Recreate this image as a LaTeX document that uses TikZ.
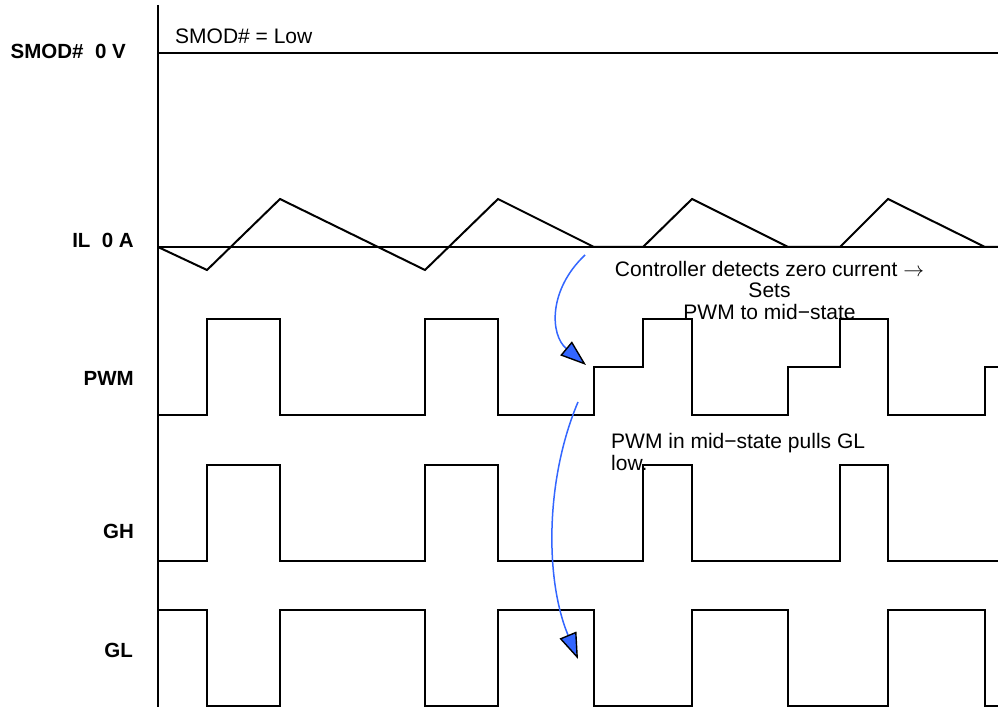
\documentclass[tikz,border=0pt]{standalone}
\usepackage{fontspec}
\setmainfont{Liberation Sans}
\usetikzlibrary{arrows.meta}
\definecolor{arrowblue}{RGB}{51,102,255}
\begin{document}
\begin{tikzpicture}[x=1pt,y=-1pt,
  wave/.style={line width=2pt,black,line join=miter},
  lbl/.style={font=\fontsize{20.5}{22}\selectfont\bfseries,anchor=base east,inner sep=0pt},
  txt/.style={font=\fontsize{21}{21.6}\selectfont,inner sep=0pt},
  note/.style={arrowblue,line width=1.5pt,
    -{Triangle[length=26pt,width=18pt,color=black,fill=arrowblue,line width=1.4pt]}}]
\useasboundingbox (0,0) rectangle (998,708);

% axis and reference lines
\draw[wave] (158,5) -- (158,707);
\draw[wave] (158,53) -- (998,53);
\draw[wave] (158,247) -- (998,247);

% IL waveform
\draw[wave] (158,247) -- (207,270) -- (280,199) -- (425,270) -- (498,199) -- (594,247)
  -- (643,247) -- (692,199) -- (788,247) -- (840,247) -- (888,199) -- (985,247) -- (998,247);

% PWM
\draw[wave] (158,415) -- (207,415) -- (207,319) -- (280,319) -- (280,415) -- (425,415)
  -- (425,319) -- (498,319) -- (498,415) -- (594,415) -- (594,367) -- (643,367)
  -- (643,319) -- (692,319) -- (692,415) -- (788,415) -- (788,367) -- (840,367)
  -- (840,319) -- (888,319) -- (888,415) -- (985,415) -- (985,367) -- (998,367);

% GH
\draw[wave] (158,561) -- (207,561) -- (207,465) -- (280,465) -- (280,561) -- (425,561)
  -- (425,465) -- (498,465) -- (498,561) -- (643,561) -- (643,465) -- (692,465)
  -- (692,561) -- (840,561) -- (840,465) -- (888,465) -- (888,561) -- (998,561);

% GL
\draw[wave] (158,610) -- (207,610) -- (207,706) -- (280,706) -- (280,610) -- (425,610)
  -- (425,706) -- (498,706) -- (498,610) -- (594,610) -- (594,706) -- (692,706)
  -- (692,610) -- (788,610) -- (788,706) -- (888,706) -- (888,610) -- (985,610)
  -- (985,706) -- (998,706);

% labels
\node[lbl] (lsmod) at (126,58.5) {SMOD\#\ \ 0 V};
\node[lbl] (lil) at (134,248) {IL\ \ 0 A};
\node[lbl] (lpwm) at (134,385) {PWM};
\node[lbl] (lgh) at (134,538) {GH};
\node[lbl] (lgl) at (133,657) {GL};

% annotations (base anchor = baseline of the last line)
\node[txt,anchor=base west] (tsmod) at (175,44) {SMOD\# = Low};
\node[txt,anchor=base,align=center] (tctrl) at (769.5,319.3)
  {Controller detects zero current $\rightarrow$\\Sets\\PWM to mid−state};
\node[txt,anchor=base west,align=left] (tpull) at (611,470)
  {PWM in mid−state pulls GL\\low.};

% arrows
\coordinate (a1s) at (585,255);
\coordinate (a1e) at (586,365);
\coordinate (a2s) at (578,402);
\coordinate (a2e) at (578,659);
\draw[note] (a1s) .. controls (548,290) and (550,335) .. (a1e);
\draw[note] (a2s) .. controls (545,480) and (545,580) .. (a2e);
\end{tikzpicture}
\end{document}
